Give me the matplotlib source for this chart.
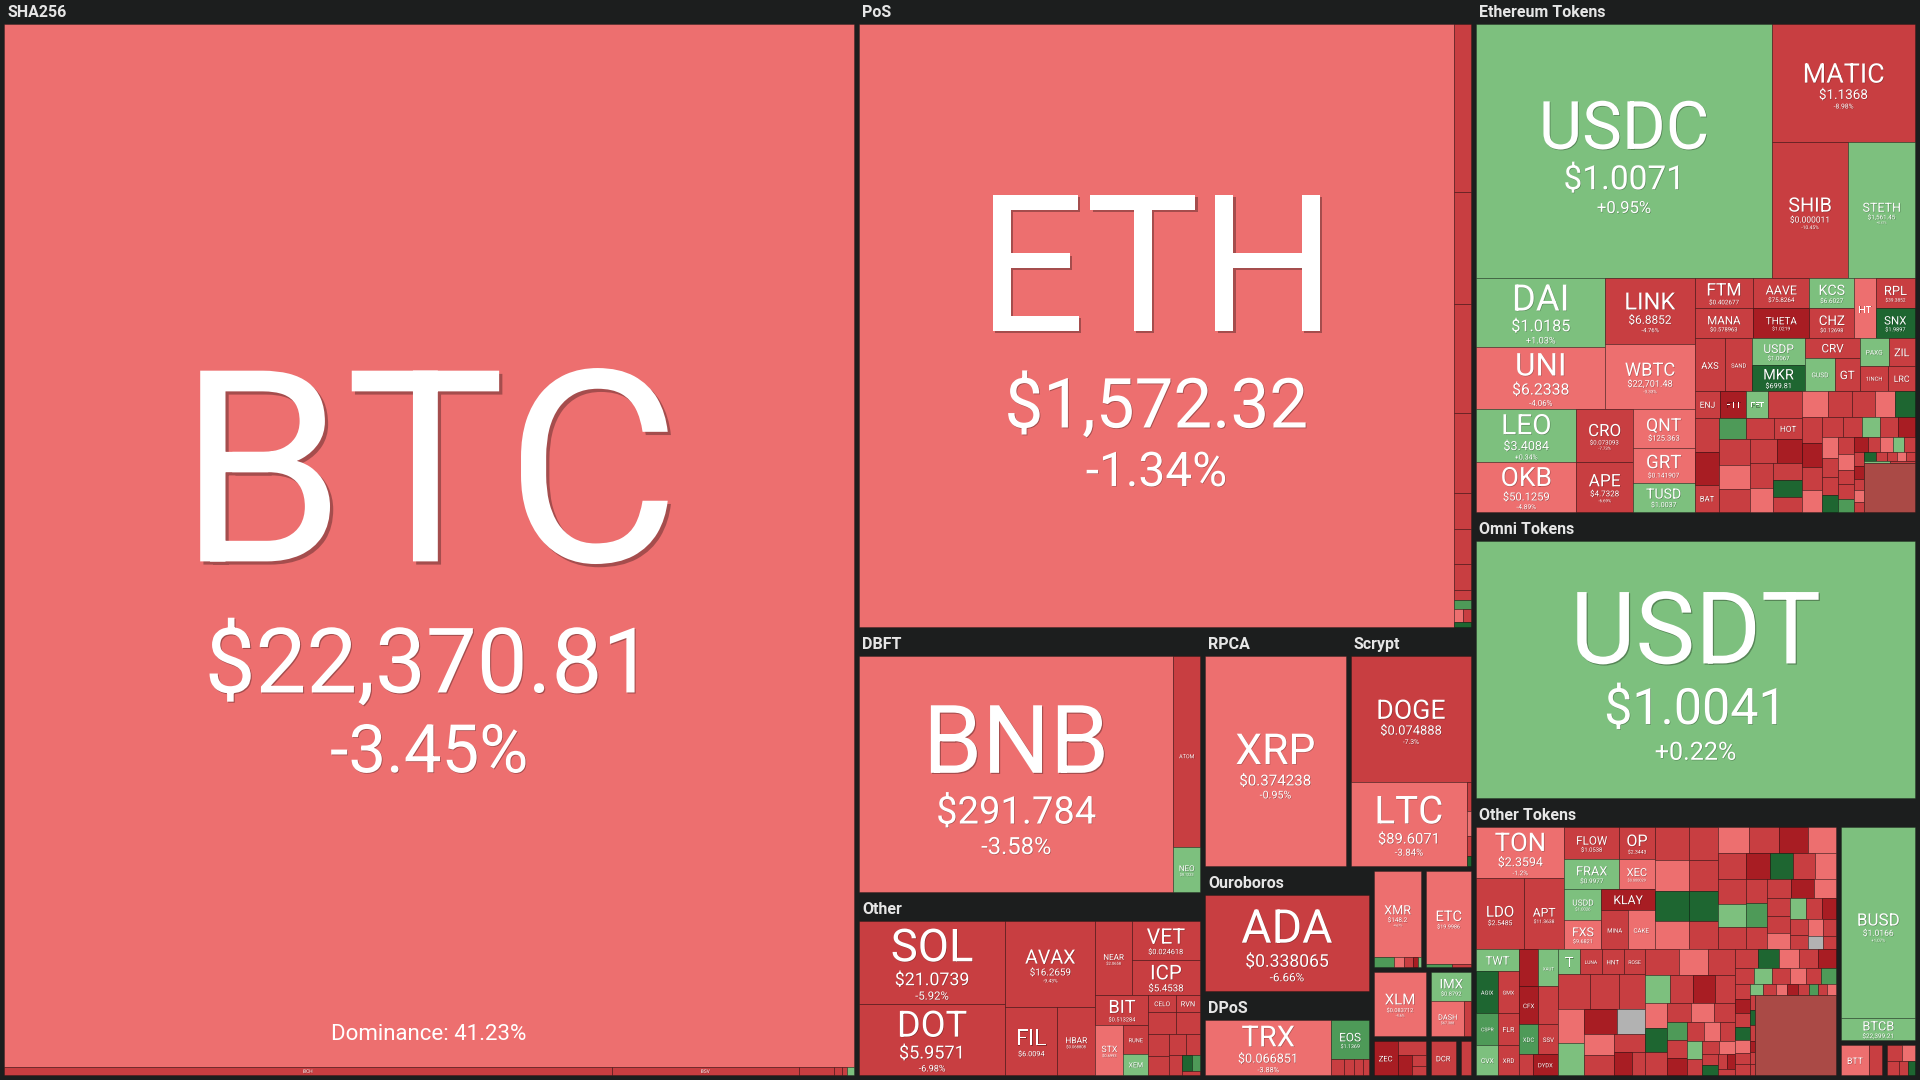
import matplotlib
matplotlib.use("Agg")
import matplotlib.pyplot as plt
from matplotlib.patches import Rectangle
from matplotlib.textpath import TextPath
from matplotlib.font_manager import FontProperties
import matplotlib.patheffects as pe

# market cap (relative, roughly $B), colour code per cell
# l light red, m red, d dark red, g light green, n green, G dark green, x grey, r fine mix
sha_sym = ["BTC", "BCH", "BSV", "", "", "", ""]
sha_cap = [435.0, 2.43, 0.75, 0.14, 0.03, 0.02, 0.03]
sha_col = "lmmmmmg"

pos_sym = ["ETH", "", "", "", "", "", "", "", "", "", "", "", ""]
pos_cap = [176.0, 1.42, 0.95, 0.92, 0.68, 0.31, 0.29, 0.22, 0.085, 0.08, 0.06, 0.05, 0.04]
pos_col = "lmmmmmmmmnlmG"

dbft_sym = ["BNB", "ATOM", "NEO"]
dbft_cap = [36.4, 2.5, 0.58]
dbft_col = "lmg"

other_sym = ["SOL", "DOT", "AVAX", "FIL", "HBAR", "NEAR", "VET", "ICP", "BIT", "STX", "RUNE", "XEM",
             "CELO", "RVN", "", "", "", "", "", "", "", "", "", ""]
other_cap = [5.96, 5.11, 3.83, 1.73, 1.28, 1.31, 1.32, 1.16, 0.8, 0.68, 0.35, 0.26,
             0.24, 0.21, 0.3, 0.26, 0.22, 0.2, 0.17, 0.14, 0.12, 0.08, 0.06, 0.04]
other_col = "mmmmmmmmmlmgmmmmmmmmmGnm"

rpca_sym, rpca_cap, rpca_col = ["XRP"], [14.5], "l"
scrypt_sym = ["DOGE", "LTC", "", "", "", ""]
scrypt_cap = [7.44, 4.81, 0.06, 0.05, 0.04, 0.02]
scrypt_col = "mlmlmG"
ouro_sym, ouro_cap, ouro_col = ["ADA"], [7.87], "m"
dpos_sym = ["TRX", "EOS", "", "", "", ""]
dpos_cap = [3.45, 0.72, 0.1, 0.08, 0.07, 0.05]
dpos_col = "lnmmmm"

misc_sym = ["XMR", "", "", "", "", "", "ETC", "", "", "XLM", "IMX", "DASH", "",
            "ZEC", "", "", "", "", "DCR", ""]
misc_cap = [2.04, 0.1, 0.05, 0.05, 0.025, 0.015, 2.07, 0.04, 0.03, 1.67, 0.59, 0.56, 0.12,
            0.41, 0.2, 0.14, 0.08, 0.06, 0.43, 0.18]
misc_col = "lnlmdglnmlglmdmdmmmm"

eth_sym = ["USDC", "MATIC", "SHIB", "STETH", "DAI", "UNI", "LINK", "WBTC", "LEO", "OKB", "CRO", "APE",
           "QNT", "GRT", "TUSD", "FTM", "MANA", "AAVE", "THETA", "KCS", "CHZ", "HT", "RPL", "SNX",
           "AXS", "SAND", "USDP", "MKR", "CRV", "GUSD", "GT", "PAXG", "ZIL", "1INCH", "LRC"]
eth_cap = [36.85, 8.28, 5.05, 4.46, 4.39, 3.93, 2.89, 2.85, 2.62, 2.43, 1.48, 1.37,
           1.19, 1.04, 0.88, 0.88, 0.85, 0.84, 0.81, 0.68, 0.65, 0.63, 0.59, 0.57,
           0.8, 0.69, 0.72, 0.66, 0.53, 0.48, 0.41, 0.39, 0.36, 0.35, 0.33]
eth_col = "gmmgglmlglmmllg" + "mmmdgmlmG" + "mmgGmgmgmmm"

ethA_sym = ["ENJ", "FTT", "FET", "", "", "", "BAT", "", "", "HOT", "", "", "", "", "", "", "", "", "", ""]
ethA_cap = [0.34, 0.34, 0.29, 0.45, 0.42, 0.4, 0.33, 0.28, 0.3, 0.3, 0.38, 0.36, 0.34, 0.32, 0.3,
            0.28, 0.26, 0.25, 0.24, 0.22]
ethA_col = "mdgmmdmnmmmlmmdmlmGm"
ethB_cap = [0.34, 0.31, 0.3, 0.27, 0.26, 0.25, 0.23, 0.22, 0.21, 0.2, 0.19, 0.18, 0.17, 0.17,
            0.16, 0.15, 0.14, 0.13, 0.13, 0.12, 0.11, 0.11, 0.1, 0.1, 0.09, 0.09, 0.08, 0.08,
            0.07, 0.07, 0.06, 0.06, 0.05, 0.05, 0.05, 0.04, 0.04, 0.04, 0.03, 0.03, 1.2]
ethB_col = "lmmlGmdmlmmgmdlmmGmlmmndmlgmmdmlmGmmlmgmr"

usdt_sym, usdt_cap, usdt_col = ["USDT"], [55.5], "g"

otTL_sym = ["TON", "LDO", "APT", "FLOW", "FRAX", "OP", "XEC", "USDD", "FXS", "KLAY", "MINA", "CAKE"]
otTL_cap = [2.2, 1.67, 1.42, 0.85, 0.8, 0.56, 0.52, 0.56, 0.54, 0.54, 0.51, 0.53]
otTL_col = "lmmmgmlgldml"
otTR_cap = [0.55, 0.52, 0.5, 0.47, 0.46, 0.44, 0.42, 0.41, 0.4, 0.38, 0.37, 0.36, 0.35, 0.34,
            0.32, 0.31, 0.3, 0.29, 0.28, 0.27, 0.26, 0.25, 0.24, 0.23, 0.22, 0.21, 0.2, 0.19,
            0.18, 0.17, 0.16, 0.15, 0.14, 0.13, 0.12, 0.11, 0.1, 0.09]
otTR_col = "mlGlmmGmlmdlmmgmdGmlmnmmdlmmlgmdmmlmxm"
otc1_sym = ["TWT", "AGIX", "CSPR", "CVX", "GMX", "FLR", "XRD"]
otc1_cap = [0.44, 0.46, 0.35, 0.33, 0.42, 0.32, 0.3]
otc1_col = "gGngmmm"
otc2_sym = ["", "XAUT", "CFX", "", "XDC", "SSV", "", "DYDX"]
otc2_cap = [0.36, 0.36, 0.36, 0.36, 0.3, 0.3, 0.14, 0.26]
otc2_col = "dgdmnmmd"
otc3_sym = ["T", "LUNA", "HNT", "ROSE", "", "", "", "", "", "", "", "", "", "", "", ""]
otc3_cap = [0.26, 0.26, 0.26, 0.26, 0.55, 0.5, 0.45, 0.42, 0.4, 0.4, 0.35, 0.33, 0.3, 0.28, 0.2, 0.15]
otc3_col = "gmmmmmmlgdxlmmdm"
otBRm_cap = [0.42, 0.37, 0.35, 0.33, 0.31, 0.29, 0.28, 0.26, 0.25, 0.24, 0.23, 0.21, 0.2, 0.19,
             0.18, 0.17, 0.16, 0.15, 0.14, 0.13, 0.12, 0.11, 0.1, 0.09, 0.08, 0.07, 0.06, 0.05]
otBRm_col = "mlmgmdmlGmmlmnmdmlmgmmlmGmdm"
otBRf_cap = [0.2, 0.19, 0.18, 0.17, 0.16, 0.15, 0.14, 0.14, 0.13, 0.12, 0.12, 0.11, 0.1, 0.1,
             0.09, 0.09, 0.08, 0.08, 0.07, 0.07, 0.06, 0.06, 0.06, 0.05, 0.05, 0.05, 0.04, 0.04,
             0.04, 0.03, 0.03, 0.03, 3.2]
otBRf_col = "mGlmdmgmlmnmdmGlmmgmldmnmlmGmdmmr"
busd_sym = ["BUSD", "BTCB", "BTT", "", "", "", "", "", ""]
busd_cap = [6.9, 0.78, 0.4, 0.2, 0.12, 0.1, 0.08, 0.06, 0.05]
busd_col = "gglmmlmmG"

prices = {"BTC": "$22,370.81", "ETH": "$1,572.32", "BNB": "$291.784", "XRP": "$0.374238",
          "DOGE": "$0.074888", "LTC": "$89.6071", "ADA": "$0.338065", "TRX": "$0.066851",
          "EOS": "$1.1369", "XMR": "$148.2", "ETC": "$19.9986", "XLM": "$0.083712",
          "IMX": "$0.8792", "DASH": "$67.388", "SOL": "$21.0739", "DOT": "$5.9571",
          "AVAX": "$16.2659", "FIL": "$6.0094", "HBAR": "$0.068808", "NEAR": "$2.0658",
          "VET": "$0.024618", "ICP": "$5.4538", "BIT": "$0.513284", "RUNE": "$1.4329",
          "XEM": "$0.0419", "STX": "$0.6993", "ATOM": "$12.2104", "NEO": "$8.1233",
          "USDC": "$1.0071", "MATIC": "$1.1368", "SHIB": "$0.000011", "STETH": "$1,561.45",
          "DAI": "$1.0185", "UNI": "$6.2338", "LINK": "$6.8852", "WBTC": "$22,701.48",
          "LEO": "$3.4084", "OKB": "$50.1259", "CRO": "$0.073093", "APE": "$4.7328",
          "QNT": "$125.363", "GRT": "$0.141907", "TUSD": "$1.0037", "FTM": "$0.402677",
          "MANA": "$0.578963", "AAVE": "$75.8264", "THETA": "$1.0219", "KCS": "$6.6027",
          "CHZ": "$0.12698", "RPL": "$39.3852", "SNX": "$1.9897", "USDP": "$1.0067",
          "MKR": "$699.81", "USDT": "$1.0041", "TON": "$2.3594", "LDO": "$2.5485",
          "APT": "$11.3638", "FLOW": "$1.0538", "OP": "$2.3443", "FRAX": "$0.9977",
          "XEC": "$0.000029", "USDD": "$1.0026", "FXS": "$9.6821", "BUSD": "$1.0166",
          "BTCB": "$22,399.21"}
changes = {"BTC": "-3.45%", "ETH": "-1.34%", "BNB": "-3.58%", "XRP": "-0.95%", "DOGE": "-7.3%",
           "LTC": "-3.84%", "ADA": "-6.66%", "TRX": "-3.88%", "XMR": "-4.67%", "XLM": "-4.6%",
           "SOL": "-5.92%", "DOT": "-6.98%", "AVAX": "-9.43%", "USDC": "+0.95%", "MATIC": "-8.98%",
           "SHIB": "-10.45%", "STETH": "+0.47%", "DAI": "+1.03%", "UNI": "-4.06%", "LINK": "-4.76%",
           "WBTC": "-3.33%", "LEO": "+0.34%", "OKB": "-4.89%", "CRO": "-7.73%", "APE": "-6.69%",
           "USDT": "+0.22%", "TON": "-1.2%", "BUSD": "+1.07%"}

PAL = {"l": "#ed6f6f", "m": "#c83e41", "d": "#a81d23", "g": "#7dc07e", "n": "#4e9a58",
       "G": "#1e6631", "x": "#b2b2b2", "r": "#aa4a46"}
BG = "#1c1e1e"
HDR = 24
GAP = 5
PX = 100 / 72

FP = FontProperties(family="Roboto")
CAPH = TextPath((0, 0), "H", size=100, prop=FP).get_extents().height / 100

REG = {}
RECT = {}
K = {}


def add(tag, syms, caps, cols):
    assert len(syms) == len(caps) == len(cols), tag
    keys = []
    for i, (s, c, k) in enumerate(zip(syms, caps, cols)):
        key = s if s else "~%s%d" % (tag, i)
        REG[key] = (c, k)
        keys.append(key)
    K[tag] = keys


add("sha", sha_sym, sha_cap, sha_col)
add("pos", pos_sym, pos_cap, pos_col)
add("dbft", dbft_sym, dbft_cap, dbft_col)
add("other", other_sym, other_cap, other_col)
add("rpca", rpca_sym, rpca_cap, rpca_col)
add("scrypt", scrypt_sym, scrypt_cap, scrypt_col)
add("ouro", ouro_sym, ouro_cap, ouro_col)
add("dpos", dpos_sym, dpos_cap, dpos_col)
add("misc", misc_sym, misc_cap, misc_col)
add("eth", eth_sym, eth_cap, eth_col)
add("ethA", ethA_sym, ethA_cap, ethA_col)
add("ethB", [""] * len(ethB_cap), ethB_cap, ethB_col)
add("usdt", usdt_sym, usdt_cap, usdt_col)
add("otTL", otTL_sym, otTL_cap, otTL_col)
add("otTR", [""] * len(otTR_cap), otTR_cap, otTR_col)
add("otc1", otc1_sym, otc1_cap, otc1_col)
add("otc2", otc2_sym, otc2_cap, otc2_col)
add("otc3", otc3_sym, otc3_cap, otc3_col)
add("otBRm", [""] * len(otBRm_cap), otBRm_cap, otBRm_col)
add("otBRf", [""] * len(otBRf_cap), otBRf_cap, otBRf_col)
add("busd", busd_sym, busd_cap, busd_col)

# arrangement of the treemap (split directions only, sizes come from caps)
km = K["misc"]
T_SHA = ("grp", "SHA256", ("v", ["BTC", ("h", K["sha"][1:])]))
T_POS = ("grp", "PoS", ("h", ["ETH", ("v", K["pos"][1:9] + [("sq", K["pos"][9:])])]))
T_DBFT = ("grp", "DBFT", ("h", ["BNB", ("v", ["ATOM", "NEO"])]))
T_OTHER = ("grp", "Other", ("h", [
    ("v", ["SOL", "DOT"]),
    ("v", ["AVAX", ("h", ["FIL", "HBAR"])]),
    ("v", [("h", ["NEAR", ("v", ["VET", "ICP"])]),
           ("h", [("v", ["BIT", ("h", ["STX", ("v", ["RUNE", "XEM"])])]), ("sq", K["other"][12:])])])]))
T_RPCA = ("grp", "RPCA", "XRP")
T_SCRYPT = ("grp", "Scrypt", ("v", ["DOGE", ("h", ["LTC", ("v", K["scrypt"][2:])])]))
T_OURO = ("grp", "Ouroboros", "ADA")
T_DPOS = ("grp", "DPoS", ("h", ["TRX", ("v", ["EOS", ("h", K["dpos"][2:])])]))
T_SMALL = ("V", [
    ("H", [("grp", None, ("v", ["XMR", ("h", km[1:6])])), ("grp", None, ("v", ["ETC", ("h", km[7:9])]))]),
    ("H", [("grp", None, "XLM"), ("grp", None, ("v", ["IMX", ("h", ["DASH", km[12]])]))]),
    ("H", [("grp", None, ("h", ["ZEC", ("sq", km[14:18])])), ("grp", None, "DCR"), ("grp", None, km[19])])])
T_MID = ("V", [T_POS, ("H", [("V", [T_DBFT, T_OTHER]),
                             ("V", [("H", [T_RPCA, T_SCRYPT]), ("H", [("V", [T_OURO, T_DPOS]), T_SMALL])])])])

T_ETH = ("grp", "Ethereum Tokens", ("v", [
    ("h", ["USDC", ("v", ["MATIC", ("h", ["SHIB", "STETH"])])]),
    ("h", [("v", [("h", [("v", ["DAI", "UNI"]), ("v", ["LINK", "WBTC"])]),
                  ("h", [("v", ["LEO", "OKB"]), ("v", ["CRO", "APE"]), ("v", ["QNT", "GRT", "TUSD"])])]),
           ("v", [("h", [("v", ["FTM", "MANA"]), ("v", ["AAVE", "THETA"]), ("v", ["KCS", "CHZ"]), "HT",
                         ("v", ["RPL", "SNX"])]),
                  ("h", ["AXS", "SAND", ("v", ["USDP", "MKR"]), ("v", ["CRV", ("h", ["GUSD", "GT"])]),
                         ("v", [("h", ["PAXG", "ZIL"]), ("h", ["1INCH", "LRC"])])]),
                  ("h", [("sq", K["ethA"]), ("sq", K["ethB"])])])])]))
T_OMNI = ("grp", "Omni Tokens", "USDT")
c2 = K["otc2"]
TL = ("h", [("v", ["TON", ("h", ["LDO", "APT"])]),
            ("v", [("h", [("v", ["FLOW", "FRAX"]), ("v", ["OP", "XEC"])]),
                   ("h", [("v", ["USDD", "FXS"]), ("v", ["KLAY", ("h", ["MINA", "CAKE"])])])])])
BL = ("h", [("v", ["TWT", ("h", [("v", ["AGIX", "CSPR", "CVX"]), ("v", ["GMX", "FLR", "XRD"])])]),
            ("v", [("h", [c2[0], "XAUT"]), ("h", ["CFX", c2[3]]), ("h", ["XDC", "SSV"]), ("h", [c2[6], "DYDX"])]),
            ("sq", K["otc3"])])
kb = K["busd"]
T_OT = ("grp", "Other Tokens", ("H", [
    ("grp", None, ("v", [("h", [TL, ("sq", K["otTR"])]),
                         ("h", [BL, ("h", [("sq", K["otBRm"]), ("sq", K["otBRf"])])])])),
    ("V", [("grp", None, ("v", ["BUSD", "BTCB"])),
           ("H", [("grp", None, ("h", ["BTT", kb[3]])), ("grp", None, ("sq", kb[4:]))])])]))
T_RIGHT = ("V", [T_ETH, T_OMNI, T_OT])
ROOT = ("H", [T_SHA, T_MID, T_RIGHT])


def weight(n):
    if isinstance(n, str):
        return REG[n][0]
    if n[0] == "grp":
        return weight(n[2])
    return sum(weight(c) for c in n[1])


def over(n, axis):
    # fixed pixels along an axis (headers, gaps) that do not scale with value
    if isinstance(n, str) or n[0] == "sq":
        return 0
    if n[0] == "grp":
        return (HDR if (axis == 1 and n[1]) else 0) + over(n[2], axis)
    kids = n[1]
    along = (n[0] in "Hh" and axis == 0) or (n[0] in "Vv" and axis == 1)
    gaps = GAP * (len(kids) - 1) if n[0] in "HV" else 0
    if along:
        return sum(over(c, axis) for c in kids) + gaps
    ws = [weight(c) for c in kids]
    return sum(over(c, axis) * wt for c, wt in zip(kids, ws)) / sum(ws)


def squarify(vals, x, y, w, h):
    scale = w * h / sum(vals)
    areas = [v * scale for v in vals]
    out = []
    i = 0
    while i < len(areas):
        short = min(w, h)

        def worst(r):
            s = sum(r)
            return max(max(short * short * a / (s * s), s * s / (short * short * a)) for a in r)

        row = [areas[i]]
        j = i + 1
        while j < len(areas) and worst(row + [areas[j]]) <= worst(row):
            row.append(areas[j])
            j += 1
        s = sum(row)
        if w >= h:
            cw = s / h
            yy = y
            for a in row:
                out.append((x, yy, cw, a / cw))
                yy += a / cw
            x += cw
            w -= cw
        else:
            rh = s / w
            xx = x
            for a in row:
                out.append((xx, y, a / rh, rh))
                xx += a / rh
            y += rh
            h -= rh
        i = j
    return out


fig = plt.figure(figsize=(19.2, 10.8), dpi=100, facecolor=BG)
ax = fig.add_axes([0, 0, 1, 1])
ax.set_xlim(0, 1920)
ax.set_ylim(1080, 0)
ax.axis("off")
ax.set_facecolor(BG)


def tw(s):
    if not s:
        return 1.0
    return TextPath((0, 0), s.replace("$", r"\$"), size=100, prop=FP).get_extents().width / 100


def txt(x, y, s, size):
    o = max(0.4, size * 0.012)
    ax.text(x, y, s.replace("$", r"\$"), fontsize=size, color="white", ha="center", va="baseline",
            family="Roboto",
            path_effects=[pe.SimplePatchShadow(offset=(o, -o), shadow_rgbFace="black", alpha=0.3),
                          pe.Normal()])


def label(sym, x, y, w, h):
    price = prices.get(sym, "")
    chg = changes.get(sym, "")
    s1 = min(0.55 * w / (tw(sym) * PX), 0.42 * h / (CAPH * PX))
    c1 = s1 * CAPH * PX
    if c1 < 3:
        return
    s2 = min(0.5 * s1, 0.5 * w / (tw(price) * PX)) if price else 0
    c2 = s2 * CAPH * PX
    if c2 < 2.5:
        s2 = c2 = 0
    s3 = min(0.25 * s1, 0.75 * s2, 0.45 * w / (tw(chg) * PX)) if (chg and s2) else 0
    c3 = s3 * CAPH * PX
    if c3 < 2.2:
        s3 = c3 = 0
    total = c1 + (0.35 * c1 + c2 if c2 else 0) + (0.5 * c2 + c3 if c3 else 0)
    k = min(1.0, 0.85 * h / total)
    s1, s2, s3, c1, c2, c3, total = [v * k for v in (s1, s2, s3, c1, c2, c3, total)]
    base = y + h / 2 - total / 2 + 0.025 * h + c1
    cx = x + w / 2
    txt(cx, base, sym, s1)
    if c2:
        base += 0.35 * c1 + c2
        txt(cx, base, price, s2)
    if c3:
        base += 0.5 * c2 + c3
        txt(cx, base, chg, s3)


def cell(key, x, y, w, h):
    RECT[key] = (x, y, w, h)
    ax.add_patch(Rectangle((x, y), w, h, facecolor=PAL[REG[key][1]],
                           edgecolor=(0, 0, 0, 0.28), lw=0.6))
    if not key.startswith("~"):
        label(key, x, y, w, h)


def place(n, x, y, w, h):
    if isinstance(n, str):
        cell(n, x, y, w, h)
        return
    kind = n[0]
    if kind == "grp":
        if n[1]:
            ax.text(x + 3, y + 17, n[1], fontsize=11.5, fontweight="bold", color="#e6e6e6",
                    ha="left", va="baseline", family="Roboto")
            y += HDR
            h -= HDR
        place(n[2], x, y, w, h)
        return
    if kind == "sq":
        for key, r in zip(n[1], squarify([REG[s][0] for s in n[1]], x, y, w, h)):
            cell(key, *r)
        return
    kids = n[1]
    horiz = kind in "Hh"
    gap = GAP if kind in "HV" else 0
    length, cross = (w, h) if horiz else (h, w)
    a0 = 0 if horiz else 1
    o_al = [over(c, a0) for c in kids]
    eff = [weight(c) / max(cross - over(c, 1 - a0), 1) for c in kids]
    free = length - sum(o_al) - gap * (len(kids) - 1)
    pos = x if horiz else y
    for c, oa, e in zip(kids, o_al, eff):
        L = oa + free * e / sum(eff)
        if horiz:
            place(c, pos, y, L, h)
        else:
            place(c, x, pos, w, L)
        pos += L + gap


place(ROOT, 4, 0, 1911, 1075)

bx, by, bw, bh = RECT["BTC"]
ax.text(bx + bw / 2, by + bh - 27, "Dominance: 41.23%", fontsize=16, color="white",
        ha="center", va="baseline", family="Roboto")

fig.savefig("out.png", dpi=100, facecolor=BG)
